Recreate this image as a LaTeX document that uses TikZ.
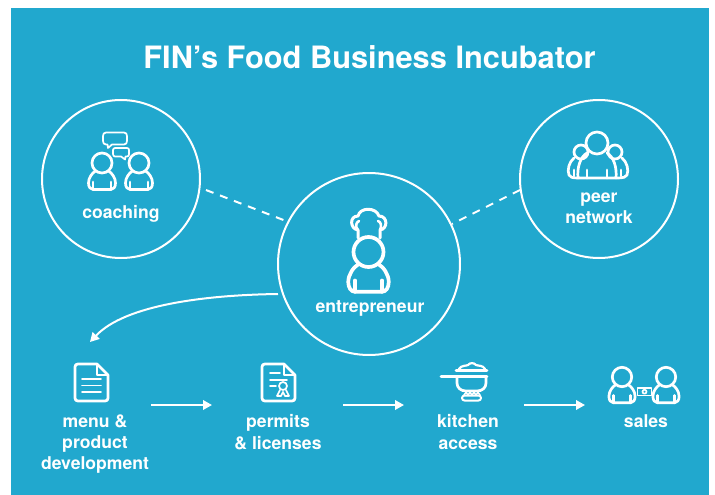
\documentclass[tikz,border=0pt]{standalone}
\usepackage{fontspec}
\setmainfont{TeX Gyre Heros}
\usetikzlibrary{arrows.meta}
\definecolor{finblue}{HTML}{21A8CE}
\tikzset{
  x=1pt,y=-1pt,
  ring/.style={circle,draw=white,line width=2pt,minimum size=#1,inner sep=0pt},
  ic/.style={draw=white,line width=2.7pt,line join=round,line cap=round},
  thin ic/.style={draw=white,line width=1.7pt,line join=round,line cap=round},
  lab/.style={text=white,font=\fontsize{17.6}{21.3}\selectfont\bfseries,align=center,inner sep=0pt},
  dash link/.style={draw=white,line width=2pt,dash pattern=on 8pt off 7pt},
  flow/.style={draw=white,line width=2pt,-{Triangle[length=9pt,width=9.5pt]}}
}
% person icon, centred on head; #1 x, #2 y, #3 scale (1 = head radius 10), #4 line width
\newcommand{\personicon}[4]{%
  \begin{scope}[shift={(#1,#2)},scale=#3]
    \draw[ic,line width=#4] (0,0) circle (10);
    \draw[ic,line width=#4] (-6.5,8) .. controls (-10,10) and (-13.5,15) .. (-13.5,20)
      .. controls (-13.5,24) and (-11.5,26.5) .. (-9,26.5) -- (9,26.5)
      .. controls (11.5,26.5) and (13.5,24) .. (13.5,20)
      .. controls (13.5,15) and (10,10) .. (6.5,8);
    \draw[ic,line width=#4] (-9,19) -- (-9,26.5) (9,19) -- (9,26.5);
  \end{scope}}
\begin{document}
\begin{tikzpicture}
\useasboundingbox (0,0) rectangle (715,495);
\fill[white] (0,0) rectangle (715,495);
\fill[finblue] (11,8) rectangle (709,495);

\node[text=white,font=\fontsize{30.8}{34}\selectfont\bfseries,inner sep=0pt] (title) at (369.5,57) {FIN’s Food Business Incubator};

\node[ring=158pt] (coachc) at (121,179) {};
\node[ring=158pt] (peerc) at (599,179) {};
\node[ring=182pt] (entc) at (369,264) {};

\coordinate (d1a) at (206,190);
\coordinate (d1b) at (286,221);
\coordinate (d2a) at (520,190);
\coordinate (d2b) at (452,224);
\draw[dash link] (d1a) -- (d1b);
\draw[dash link] (d2a) -- (d2b);

% coaching
\personicon{102}{163}{1}{2.7pt}
\personicon{139}{163}{1}{2.7pt}
\draw[thin ic] (106,132.5) -- (124,132.5) .. controls (126,132.5) and (127,134) .. (127,136) -- (127,141)
  .. controls (127,143) and (126,144.5) .. (124,144.5) -- (112,144.5) -- (108,148) -- (107.5,144.5) -- (106,144.5)
  .. controls (104,144.5) and (103,143) .. (103,141) -- (103,136) .. controls (103,134) and (104,132.5) .. (106,132.5) -- cycle;
\draw[thin ic] (115,148) -- (127,148) .. controls (128.5,148) and (129,149) .. (129,150) -- (129,154)
  .. controls (129,155.5) and (128.5,156.5) .. (127,156.5) -- (125.5,156.5) -- (125,159.5) -- (121,156.5) -- (115,156.5)
  .. controls (114,156.5) and (113,155.5) .. (113,154) -- (113,150) .. controls (113,149) and (114,148) .. (115,148) -- cycle;
\node[lab] (coach) at (121,213.5) {coaching};

% peer network
\draw[ic] (597,143) circle (11);
\draw[ic] (581,152) circle (7) (615,152) circle (7);
\draw[ic] (587,153) .. controls (580,157) and (577,168) .. (578,178) -- (616,178)
  .. controls (617,168) and (614,157) .. (607,153);
\draw[ic] (574,158) .. controls (569,162) and (567,170) .. (569,175) .. controls (570,177) and (572,178) .. (578,178)
  (622,158) .. controls (627,162) and (629,170) .. (627,175) .. controls (626,177) and (624,178) .. (616,178);
\draw[ic] (587,170) -- (587,178) (607,170) -- (607,178) (574,170) -- (574,176) (621,170) -- (621,176);
\node[lab] (peer) at (599,208.5) {peer\\network};

% entrepreneur
\personicon{368.5}{252}{1.5}{3.7pt}
\draw[ic,line width=3pt] (358,238) -- (358,230) .. controls (350,229) and (349,216) .. (358,216)
  .. controls (360,207) and (376,207) .. (379,216)
  .. controls (388,216) and (388,229) .. (380,230) -- (380,238);
\draw[ic,line width=2.6pt] (358,230) .. controls (355,227) and (356,222) .. (359,221);
\draw[ic,line width=2.6pt] (380,230) .. controls (382,226) and (381,222) .. (378,221);
\node[lab] (ent) at (370,308) {entrepreneur};

% curved arrow
\coordinate (ca) at (278,294);
\coordinate (cb) at (90,342);
\draw[flow] (ca) .. controls (205,295) and (125,305) .. (cb);

% menu document
\draw[ic] (75,367) .. controls (75,365) and (76,364) .. (78,364) -- (97,364) -- (108,375) -- (108,398)
  .. controls (108,400) and (107,401) .. (105,401) -- (78,401)
  .. controls (76,401) and (75,400) .. (75,398) -- cycle;
\draw[thin ic] (97,364) -- (97,375) -- (108,375);
\draw[ic,line width=1.8pt] (82,379) -- (101,379) (82,385.5) -- (101,385.5) (82,392) -- (101,392);
\node[lab] (menu) at (95,444) {menu \&\\product\\development};

% permits document
\draw[ic] (262,367) .. controls (262,365) and (263,364) .. (265,364) -- (284,364) -- (295,375) -- (295,398)
  .. controls (295,400) and (294,401) .. (292,401) -- (265,401)
  .. controls (263,401) and (262,400) .. (262,398) -- cycle;
\draw[thin ic] (284,364) -- (284,375) -- (295,375);
\draw[thin ic] (270,373) -- (280,373) (270,380) -- (287,380) (270,386) -- (276,386);
\draw[thin ic] (283,386) circle (4);
\draw[thin ic] (280,390) -- (277,396) -- (281,396) -- (283,392) -- (285,396) -- (289,396) -- (286,390);
\node[lab] (permit) at (278,432) {permits\\\& licenses};

% kitchen
\draw[ic] (456,370.5) -- (487,370.5);
\draw[ic] (441,376.5) -- (487,376.5);
\draw[ic,line width=2.2pt] (459,369) .. controls (461,365) and (467,366) .. (468,365) .. controls (470,362.5) and (474,362.5) .. (476,365)
  .. controls (478,366) and (483,365) .. (485,369);
\draw[ic] (457,376.5) -- (457,383) .. controls (457,388) and (461,391) .. (466,391) -- (477,391)
  .. controls (482,391) and (486,388) .. (486,383) -- (486,376.5);
\draw[ic,line width=1.6pt] (464,395) -- (466,392.5) -- (468,395) -- (470,392.5) -- (472,395) -- (474,392.5) -- (476,395) -- (478,392.5) -- (480,395);
\draw[ic,line width=2pt,rounded corners=2.5pt] (462,395.5) rectangle (481,400.5);
\node[lab] (kitchen) at (468,432) {kitchen\\access};

% sales
\personicon{622}{377}{0.97}{2.7pt}
\personicon{666}{377}{0.97}{2.7pt}
\draw[thin ic] (637.5,388) rectangle (651.5,395.5);
\draw[thin ic] (644.5,391.7) circle (2);
\node[lab] (sales) at (646,421) {sales};

% flow arrows
\coordinate (a1) at (151,405); \coordinate (a2) at (212,405);
\coordinate (b1) at (343,405); \coordinate (b2) at (404,405);
\coordinate (c1) at (524,405); \coordinate (c2) at (585,405);
\draw[flow] (a1) -- (a2);
\draw[flow] (b1) -- (b2);
\draw[flow] (c1) -- (c2);
\end{tikzpicture}
\end{document}
